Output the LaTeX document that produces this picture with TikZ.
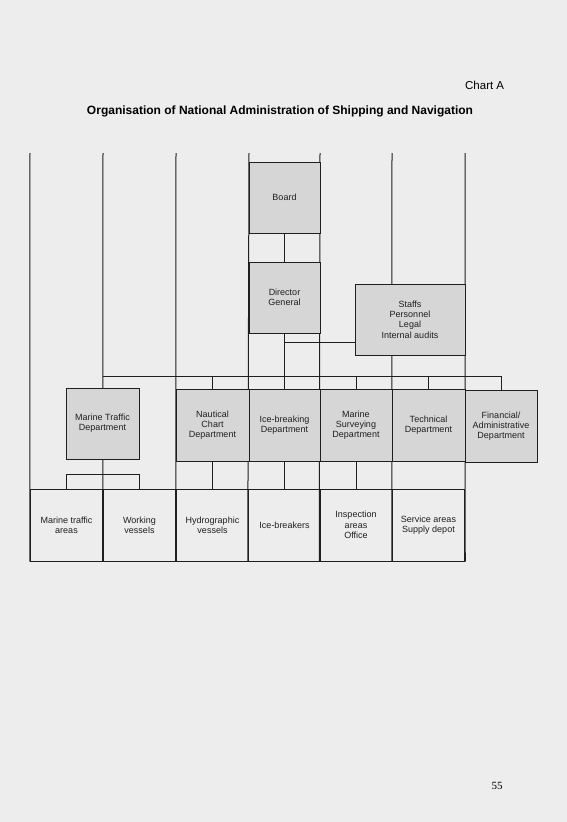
\documentclass[tikz,border=0pt]{standalone}
\usepackage{fontspec}
\setmainfont{Liberation Sans}
\newfontfamily\pagenumfont{Liberation Serif}
\usepackage{tikz}

\definecolor{paper}{gray}{0.93}
\definecolor{boxgray}{gray}{0.84}
\definecolor{ink}{gray}{0.12}

\begin{document}
\begin{tikzpicture}[x=1pt, y=-1pt, line width=1pt,
    dept/.style={draw=ink, fill=boxgray, align=center, inner sep=1pt,
        font=\fontsize{9}{10.3}\selectfont, text=ink},
    office/.style={draw=ink, align=center, inner sep=1pt,
        minimum width=72.5pt, minimum height=72pt,
        font=\fontsize{9}{10.3}\selectfont, text=ink}]
    \fill[paper] (0, 0) rectangle (567, 822);

    \node[anchor=east, font=\fontsize{11.5}{13}\selectfont] (chart) at (508, 85) {Chart A};
    \node[font=\bfseries\fontsize{12}{14}\selectfont] (title) at (280, 111)
        {Organisation of National Administration of Shipping and Navigation};
    \node[font=\pagenumfont\fontsize{11}{13}\selectfont] (page) at (497, 786) {55};

    % bottom row
    \node[office] (b1) at (66.5, 525) {Marine traffic\\areas};
    \node[office] (b2) at (139.5, 525) {Working\\vessels};
    \node[office] (b3) at (212.5, 525) {Hydrographic\\vessels};
    \node[office] (b4) at (284.5, 525) {Ice-breakers};
    \node[office] (b5) at (356, 525) {Inspection\\areas\\Office};
    \node[office] (b6) at (428.5, 525) {Service areas\\Supply depot};

    % column lines
    \coordinate (t0) at (30, 153);
    \coordinate (t1) at (103, 153);
    \coordinate (t2) at (176, 153);
    \coordinate (t3) at (249, 153);
    \coordinate (t4) at (320, 153);
    \coordinate (t5) at (392, 153);
    \coordinate (t6) at (465, 153);
    \draw[ink] (t0) -- (b1.south west);
    \draw[ink] (t1) -- (b2.south west);
    \draw[ink] (t2) -- (b3.south west);
    \draw[ink] (t3) -- (b4.south west);
    \draw[ink] (t4) -- (b5.south west);
    \draw[ink] (t5) -- (b6.south west);
    \draw[ink] (t6) -- (b6.south east);

    % management
    \node[dept, minimum width=71pt, minimum height=71pt] (board) at (284.5, 197.5) {Board};
    \node[dept, minimum width=71pt, minimum height=71pt] (dg) at (284.5, 297.5) {Director\\General};
    \node[dept, minimum width=110pt, minimum height=71pt] (staffs) at (410, 319.5)
        {Staffs\\Personnel\\Legal\\Internal audits};

    % departments
    \node[dept, minimum width=73pt, minimum height=71pt] (mtd) at (102.5, 423.5) {Marine Traffic\\Department};
    \node[dept, minimum width=73pt, minimum height=72pt] (naut) at (212.5, 425) {Nautical\\Chart\\Department};
    \node[dept, minimum width=71pt, minimum height=72pt] (ice) at (284.5, 425) {Ice-breaking\\Department};
    \node[dept, minimum width=72pt, minimum height=72pt] (surv) at (356, 425) {Marine\\Surveying\\Department};
    \node[dept, minimum width=73pt, minimum height=72pt] (tech) at (428.5, 425) {Technical\\Department};
    \node[dept, minimum width=72pt, minimum height=72pt] (fin) at (501, 426) {Financial/\\Administrative\\Department};

    % connectors
    \coordinate (barL) at (103, 376);
    \coordinate (dgs) at (284.5, 342);
    \coordinate (brk) at (103, 474);
    \draw[ink] (board.south) -- (dg.north);
    \draw[ink] (dg.south) -- (ice.north);
    \draw[ink] (dgs) -- (dgs -| staffs.west);
    \draw[ink] (barL) -- (barL -| fin.north) -- (fin.north);
    \draw[ink] (naut.north) -- (naut.north |- barL);
    \draw[ink] (surv.north) -- (surv.north |- barL);
    \draw[ink] (tech.north) -- (tech.north |- barL);
    \draw[ink] (b1.north) -- (b1.north |- brk) -- (b2.north |- brk) -- (b2.north);
    \draw[ink] (naut.south) -- (b3.north);
    \draw[ink] (ice.south) -- (b4.north);
    \draw[ink] (surv.south) -- (b5.north);
\end{tikzpicture}
\end{document}
